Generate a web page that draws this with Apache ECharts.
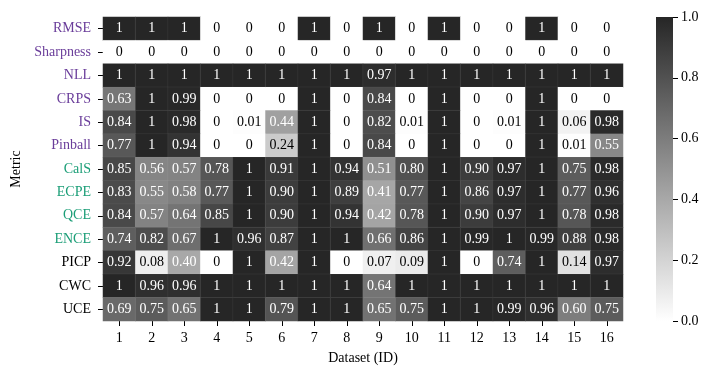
<!DOCTYPE html>
<html>
<head>
<meta charset="utf-8">
<script src="https://cdn.jsdelivr.net/npm/echarts@6/dist/echarts.min.js"></script>
<style>html,body{margin:0;padding:0;background:#fff;}#c{width:714px;height:380px;}</style>
</head>
<body>
<div id="c"></div>
<script>
const datasets = ['1','2','3','4','5','6','7','8','9','10','11','12','13','14','15','16'];
const metrics = ['RMSE','Sharpness','NLL','CRPS','IS','Pinball','CalS','ECPE','QCE','ENCE','PICP','CWC','UCE'];
const metricGroups = ['acc','acc','acc','acc','acc','acc','cal','cal','cal','cal','oth','oth','oth'];
const RMSE      = [1,1,1,0,0,0,1,0,1,0,1,0,0,1,0,0];
const Sharpness = [0,0,0,0,0,0,0,0,0,0,0,0,0,0,0,0];
const NLL       = [1,1,1,1,1,1,1,1,0.97,1,1,1,1,1,1,1];
const CRPS      = [0.63,1,0.99,0,0,0,1,0,0.84,0,1,0,0,1,0,0];
const IS        = [0.84,1,0.98,0,0.01,0.44,1,0,0.82,0.01,1,0,0.01,1,0.06,0.98];
const Pinball   = [0.77,1,0.94,0,0,0.24,1,0,0.84,0,1,0,0,1,0.01,0.55];
const CalS      = [0.85,0.56,0.57,0.78,1,0.91,1,0.94,0.51,0.80,1,0.90,0.97,1,0.75,0.98];
const ECPE      = [0.83,0.55,0.58,0.77,1,0.90,1,0.89,0.41,0.77,1,0.86,0.97,1,0.77,0.96];
const QCE       = [0.84,0.57,0.64,0.85,1,0.90,1,0.94,0.42,0.78,1,0.90,0.97,1,0.78,0.98];
const ENCE      = [0.74,0.82,0.67,1,0.96,0.87,1,1,0.66,0.86,1,0.99,1,0.99,0.88,0.98];
const PICP      = [0.92,0.08,0.40,0,1,0.42,1,0,0.07,0.09,1,0,0.74,1,0.14,0.97];
const CWC       = [1,0.96,0.96,1,1,1,1,1,0.64,1,1,1,1,1,1,1];
const UCE       = [0.69,0.75,0.65,1,1,0.79,1,1,0.65,0.75,1,1,0.99,0.96,0.60,0.75];
const colorbarTicks = [0, 0.2, 0.4, 0.6, 0.8, 1.0];

const rows = [RMSE,Sharpness,NLL,CRPS,IS,Pinball,CalS,ECPE,QCE,ENCE,PICP,CWC,UCE];
const groupColor = {acc:'#6a3d9a', cal:'#1b9e77', oth:'#000000'};
const FONT = 'Liberation Serif';

const cells = [];
rows.forEach((r, yi) => r.forEach((v, xi) => cells.push([xi, yi, v])));

const chart = echarts.init(document.getElementById('c'), null, {renderer:'canvas'});
chart.setOption({
  animation: false,
  backgroundColor: '#fff',
  textStyle: {fontFamily: FONT},
  grid: [
    {left: 103, right: 91, top: 17, bottom: 59},
    {left: 656, width: 17, top: 17, bottom: 59}
  ],
  xAxis: [
    {
      type: 'category', data: datasets, gridIndex: 0, position: 'bottom',
      axisLine: {show: false},
      axisTick: {show: true, alignWithLabel: true, length: 5, lineStyle: {color: '#000', width: 1}},
      axisLabel: {color: '#000', fontFamily: FONT, fontSize: 14, margin: 10},
      splitLine: {show: false},
      name: 'Dataset (ID)', nameLocation: 'middle', nameGap: 30,
      nameTextStyle: {color: '#000', fontFamily: FONT, fontSize: 14}
    },
    {type: 'category', data: ['c'], gridIndex: 1, show: false}
  ],
  yAxis: [
    {
      type: 'category', gridIndex: 0, inverse: true,
      data: metrics.map((m, i) => ({value: m, textStyle: {color: groupColor[metricGroups[i]]}})),
      axisLine: {show: false},
      axisTick: {show: true, alignWithLabel: true, length: 5, lineStyle: {color: '#000', width: 1}},
      axisLabel: {fontFamily: FONT, fontSize: 14, margin: 12},
      splitLine: {show: false},
      name: 'Metric', nameLocation: 'middle', nameGap: 76, nameRotate: 90,
      nameTextStyle: {color: '#000', fontFamily: FONT, fontSize: 14}
    },
    {
      type: 'value', gridIndex: 1, position: 'right', min: 0, max: 1, interval: 0.2,
      axisLine: {show: false},
      axisTick: {show: true, length: 5, lineStyle: {color: '#000', width: 1}},
      axisLabel: {color: '#000', fontFamily: FONT, fontSize: 14, margin: 8,
        formatter: v => colorbarTicks.some(t => Math.abs(t - v) < 1e-9) ? v.toFixed(1) : ''},
      splitLine: {show: false}
    }
  ],
  visualMap: {
    show: false, type: 'continuous', min: 0, max: 1, seriesIndex: 0, dimension: 2,
    inRange: {color: ['#ffffff', '#262626']}
  },
  series: [
    {
      type: 'heatmap', xAxisIndex: 0, yAxisIndex: 0,
      data: cells.map(c => ({value: c, label: {color: c[2] > 0.385 ? '#ffffff' : '#000000'}})),
      itemStyle: {borderColor: 'rgba(255,255,255,0.1)', borderWidth: 0.5},
      emphasis: {disabled: true},
      label: {
        show: true, fontFamily: FONT, fontSize: 14,
        formatter: p => { const v = p.value[2]; return (v === 0 || v === 1) ? String(v) : v.toFixed(2); }
      }
    },
    {
      type: 'bar', xAxisIndex: 1, yAxisIndex: 1, data: [1], barWidth: '100%', silent: true,
      itemStyle: {color: new echarts.graphic.LinearGradient(0, 0, 0, 1, [
        {offset: 0, color: '#262626'}, {offset: 1, color: '#ffffff'}
      ])}
    }
  ]
});
</script>
</body>
</html>
